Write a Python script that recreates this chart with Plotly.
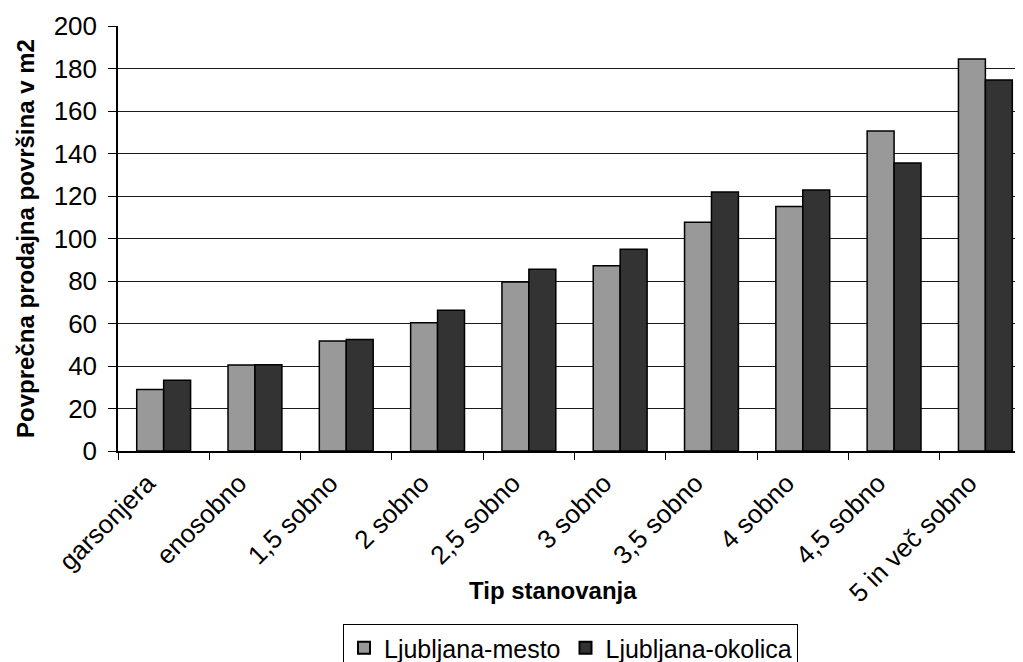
import plotly.graph_objects as go

categories = ["garsonjera", "enosobno", "1,5 sobno", "2 sobno", "2,5 sobno",
              "3 sobno", "3,5 sobno", "4 sobno", "4,5 sobno", "5 in več sobno"]
mesto = [29.0, 40.5, 51.8, 60.4, 79.5, 87.2, 107.6, 115.1, 150.6, 184.5]
okolica = [33.3, 40.6, 52.5, 66.2, 85.5, 94.9, 121.9, 122.8, 135.5, 174.6]
y_ticks = [0, 20, 40, 60, 80, 100, 120, 140, 160, 180, 200]

FONT = "Liberation Sans, Arial, sans-serif"
W, H = 1015, 654  # page body has an 8px default margin
L, T, B = 110, 18, 211
PLOT_H = H - T - B

fig = go.Figure()
fig.add_trace(go.Bar(name="Ljubljana-mesto", x=categories, y=mesto,
                     marker=dict(color="#999999", line=dict(color="#000000", width=1.5))))
fig.add_trace(go.Bar(name="Ljubljana-okolica", x=categories, y=okolica,
                     marker=dict(color="#333333", line=dict(color="#000000", width=1.5))))

fig.update_layout(
    width=W, height=H,
    margin=dict(l=L, r=0, t=T, b=B, autoexpand=False),
    paper_bgcolor="white", plot_bgcolor="white",
    barmode="group", bargap=0.41, bargroupgap=0,
    font=dict(family=FONT, color="black"),
    showlegend=True,
    legend=dict(orientation="h", x=0.5, xanchor="center", xref="paper",
                y=(H - 616) / H, yanchor="top", yref="container",
                bordercolor="black", borderwidth=1, bgcolor="white",
                font=dict(size=25, family=FONT), traceorder="normal",
                itemsizing="constant"),
    xaxis=dict(
        type="category", range=[-0.5, 9.412], automargin=False,
        tickangle=-45, tickfont=dict(size=26, family=FONT),
        ticklabelshift=-16, ticklabelstandoff=5,
        showline=True, linecolor="black", linewidth=1.5,
        ticks="outside", ticklen=7, tickcolor="black", tickson="boundaries",
        showgrid=False,
    ),
    yaxis=dict(
        range=[0, 200], tickvals=y_ticks, automargin=False,
        tickfont=dict(size=26, family=FONT), ticklabelstandoff=6,
        showline=True, linecolor="black", linewidth=1.5,
        ticks="outside", ticklen=8, tickcolor="black",
        showgrid=True, gridcolor="#1a1a1a", gridwidth=1,
        zeroline=False,
        title=dict(text="<b>Povprečna prodajna površina v m2</b>", font=dict(size=24, family=FONT), standoff=12),
    ),
    annotations=[dict(text="<b>Tip stanovanja</b>", x=(553 - 8 - L) / (W - L), xref="paper",
                      y=-(582 - (H - B)) / PLOT_H, yref="paper", xanchor="center", yanchor="middle",
                      showarrow=False, font=dict(size=24, family=FONT))],
)

fig.write_html("out.html")
